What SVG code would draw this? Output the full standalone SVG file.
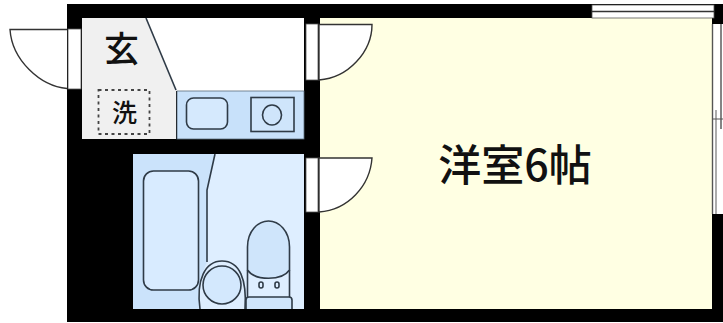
<svg xmlns="http://www.w3.org/2000/svg" width="723" height="323" viewBox="0 0 723 323">
<style>
.ln{fill:none;stroke:#2f3b47;stroke-width:1.6}
.fx{fill:#cfe5fb;stroke:#2f3b47;stroke-width:1.6}
.door{fill:#fff;stroke:#333;stroke-width:1.4}
.op{fill:#fff;stroke:#555;stroke-width:.8}
text{font-family:"Noto Sans CJK JP","Noto Sans",sans-serif;fill:#111;font-weight:500}
</style>
<rect width="723" height="323" fill="#fff"/>
<g id="walls">
<rect x="67" y="4" width="656" height="318" fill="#000"/>
</g>
<g id="room"><rect x="320" y="18" width="392" height="291" fill="#ffffe3"/>
<text x="515" y="181" font-size="43" text-anchor="middle">洋室6帖</text></g>
<g id="closet"><rect x="82" y="18" width="222" height="73" fill="#fff"/></g>
<g id="entry"><path d="M82 18H146L176 90V139H82Z" fill="#f0f0f0"/><path d="M146 18L176 90" class="ln"/>
<text x="121.500" y="62" font-size="35" text-anchor="middle">玄</text>
<rect x="98.500" y="90" width="51" height="44" fill="none" stroke="#444" stroke-width="1.800" stroke-dasharray="3 3.500"/>
<text x="124.500" y="122" font-size="25" text-anchor="middle">洗</text></g>
<g id="kitchen"><rect x="177" y="91" width="127" height="48" fill="#c8e1fa" stroke="#5a6b7a" stroke-width=".8"/>
<rect x="186.500" y="98" width="41" height="31" rx="7" fill="#d5e9fd" stroke="#2f3b47" stroke-width="1.600"/>
<rect x="251" y="97.500" width="43" height="34" class="fx" stroke-width="1.600"/>
<ellipse cx="272" cy="115" rx="9.500" ry="10" class="fx"/></g>
<g id="bath"><rect x="133" y="154" width="171" height="155" fill="#deeeff"/>
<path d="M133 154H215L207 190V262Q200 275 199 309H133Z" fill="#cbe3fb"/>
<path d="M215 154L207 190V262" class="ln"/>
<rect x="143.500" y="171" width="55" height="119" rx="10" fill="#d8ebff" stroke="#2f3b47" stroke-width="1.600"/>
<path d="M200 309C196 280 205 261 222 261C240 261 247 280 245 309" fill="#deeeff" stroke="#2f3b47" stroke-width="1.600"/>
<circle cx="222" cy="285" r="19" fill="#d3e8fd" stroke="#2f3b47" stroke-width="1.600"/>
<path d="M247.500 270V247C247.500 231 258 221 268.500 221C279 221 289.500 231 289.500 247V270C282 281 255 281 247.500 270Z" class="fx"/>
<path d="M247.500 270V298M289.500 270V297" class="ln"/>
<rect x="259" y="282" width="4" height="6" rx="2" class="ln"/>
<rect x="275" y="282" width="4" height="6" rx="2" class="ln"/>
<path d="M246 309V300Q246 297 249 297H289Q292 297 292 300V309" fill="#cfe5fb" stroke="#2f3b47" stroke-width="1.600"/></g>
<g id="door-entry"><rect x="68" y="29" width="13" height="60" class="op"/><path d="M67 29.500H10C12 60 40 86 67 88.500" class="door"/></g>
<g id="door-room"><rect x="306" y="24" width="12" height="56" class="op"/><path d="M319 24.500H372C372 52 348 78 319 80Z" class="door"/></g>
<g id="door-bath"><rect x="306" y="158" width="12" height="54" class="op"/><path d="M319 158H372C370 186 348 210 319 212Z" class="door"/></g>
<g id="window-top"><rect x="592" y="5" width="122" height="13" fill="#fff" stroke="#555" stroke-width=".8"/><path d="M592 11.500H714" stroke="#333" stroke-width="1.300"/></g>
<g id="window-right"><rect x="713" y="24" width="10" height="190" fill="#fff"/><path d="M712.500 24V214" stroke="#555" stroke-width="1.400"/><path d="M721 24V129" stroke="#333" stroke-width="1.200"/><path d="M716 110V214" stroke="#888" stroke-width="1.400"/><path d="M713 119H723" stroke="#555"/></g>
</svg>
